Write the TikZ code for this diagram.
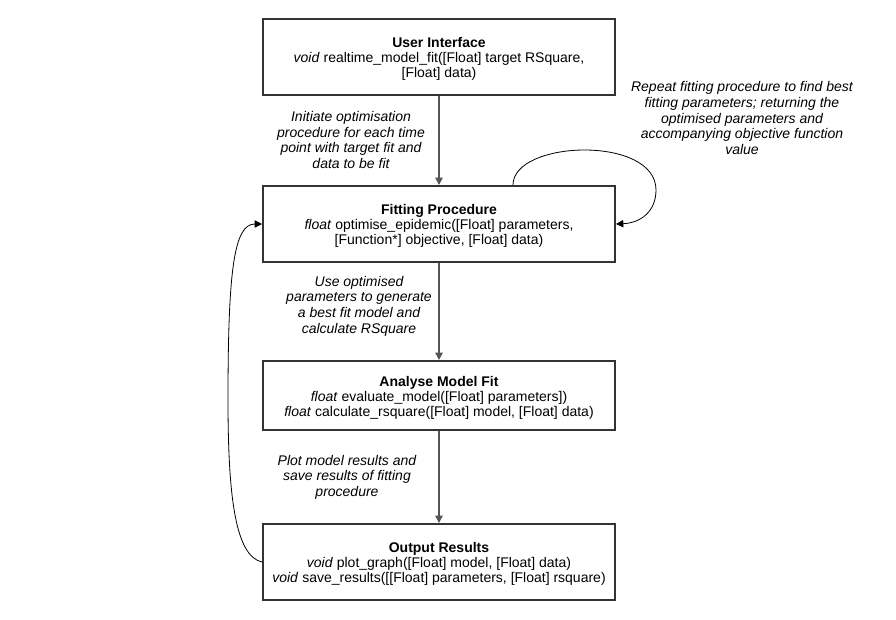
\documentclass[tikz,border=0pt]{standalone}
\usepackage{fontspec}
\setmainfont{Liberation Sans}
\usetikzlibrary{arrows.meta}
\definecolor{boxline}{HTML}{333333}
\definecolor{arrline}{HTML}{555555}
\begin{document}
\begin{tikzpicture}[x=0.75pt,y=-0.75pt,
  fbox/.style={draw=boxline, line width=1.5pt, minimum width=264pt, inner sep=0pt},
  ftxt/.style={align=center, font=\fontsize{10.5}{11.4}\selectfont, inner sep=0pt, yshift=-1.6pt},
  lbl/.style={align=center, font=\fontsize{10.5}{11.7}\selectfont\itshape, inner sep=0pt},
  varr/.style={draw=arrline, line width=1.1pt, -{Triangle[length=5.5pt,width=5.5pt]}},
  carr/.style={draw=black, line width=0.6pt, -{Triangle[length=5.5pt,width=5.5pt]}}]
\useasboundingbox (0,0) rectangle (896,619);
\node[fbox, minimum height=57pt] (ui) at (439,57) {};
\node[fbox, minimum height=57pt] (fp) at (439,224) {};
\node[fbox, minimum height=51.75pt] (am) at (439,395.5) {};
\node[fbox, minimum height=57pt] (or) at (439,562) {};
\node[ftxt] (uit) at (ui.center) {\textbf{User Interface}\\\textit{void} realtime\_model\_fit([Float] target RSquare,\\{}[Float] data)};
\node[ftxt] (fpt) at (fp.center) {\textbf{Fitting Procedure}\\\textit{float} optimise\_epidemic([Float] parameters,\\{}[Function*] objective, [Float] data)};
\node[ftxt] (amt) at (am.center) {\textbf{Analyse Model Fit}\\\textit{float} evaluate\_model([Float] parameters])\\\textit{float} calculate\_rsquare([Float] model, [Float] data)};
\node[ftxt] (ort) at (or.center) {\textbf{Output Results}\\\textit{void} plot\_graph([Float] model, [Float] data)\\\textit{void} save\_results([[Float] parameters, [Float] rsquare)};

\node[lbl] (l1) at (351,140) {Initiate optimisation\\procedure for each time\\point with target fit and\\data to be fit};
\node[lbl] (l2) at (742,118) {Repeat fitting procedure to find best\\fitting parameters; returning the\\optimised parameters and\\accompanying objective function\\value};
\node[lbl] (l3) at (359,306) {Use optimised\\parameters to generate\\a best fit model and\\calculate RSquare};
\node[lbl] (l4) at (347,477) {Plot model results and\\save results of fitting\\procedure};

\draw[varr] (ui.south) -- (fp.north);
\draw[varr] (fp.south) -- (am.north);
\draw[varr] (am.south) -- (or.north);

\coordinate (ls) at ([xshift=55.5pt]fp.north);
\draw[carr] (ls) .. controls (513,140) and (656,135) .. (656,190) .. controls (656,212) and (640,223) .. (fp.east);
\draw[carr] (or.west) .. controls (236,556) and (228,500) .. (228,400) .. controls (228,270) and (234,224) .. (fp.west);
\end{tikzpicture}
\end{document}
